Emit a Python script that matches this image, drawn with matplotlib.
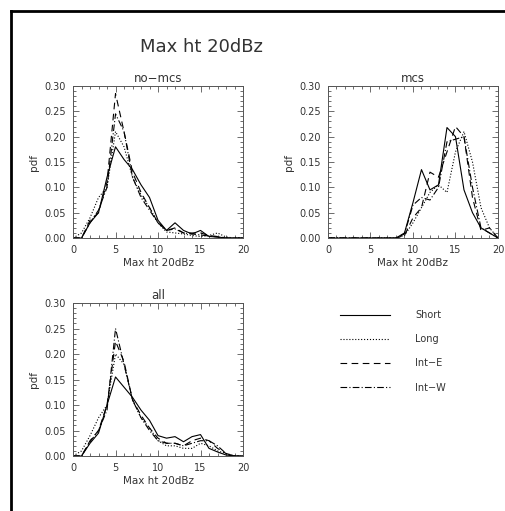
import matplotlib
matplotlib.use('Agg')
import matplotlib.pyplot as plt
from matplotlib.lines import Line2D
from matplotlib.ticker import MultipleLocator

# bins of max height of 20 dBz echo (km)
heights = list(range(21))

# no-mcs
nomcs_short = [0, 0.0, 0.03, 0.05, 0.12, 0.18, 0.155, 0.135, 0.105, 0.08, 0.035,
               0.015, 0.03, 0.015, 0.008, 0.015, 0.003, 0.002, 0, 0, 0]
nomcs_long = [0, 0.01, 0.04, 0.08, 0.10, 0.21, 0.18, 0.12, 0.085, 0.06, 0.03,
              0.012, 0.01, 0.008, 0.005, 0.003, 0.005, 0.01, 0.002, 0, 0]
nomcs_inte = [0, 0.0, 0.035, 0.05, 0.11, 0.285, 0.21, 0.13, 0.09, 0.06, 0.03,
              0.015, 0.02, 0.01, 0.01, 0.01, 0.005, 0.003, 0, 0, 0]
nomcs_intw = [0, 0.0, 0.03, 0.055, 0.10, 0.245, 0.21, 0.12, 0.08, 0.055, 0.03,
              0.015, 0.018, 0.01, 0.008, 0.006, 0.004, 0.002, 0, 0, 0]

# mcs
mcs_short = [0, 0, 0, 0, 0, 0, 0, 0, 0, 0.01, 0.07,
             0.135, 0.095, 0.105, 0.218, 0.20, 0.095, 0.05, 0.02, 0.01, 0]
mcs_long = [0, 0, 0, 0, 0, 0, 0, 0, 0, 0.005, 0.03,
            0.06, 0.09, 0.105, 0.09, 0.17, 0.21, 0.15, 0.06, 0.02, 0]
mcs_inte = [0, 0, 0, 0, 0, 0, 0, 0, 0, 0.005, 0.04,
            0.06, 0.13, 0.12, 0.17, 0.22, 0.20, 0.08, 0.015, 0.02, 0]
mcs_intw = [0, 0, 0, 0, 0, 0, 0, 0, 0, 0.008, 0.065,
            0.08, 0.075, 0.10, 0.19, 0.195, 0.20, 0.10, 0.02, 0.01, 0]

# all
all_short = [0, 0.0, 0.025, 0.045, 0.10, 0.155, 0.135, 0.115, 0.09, 0.07, 0.04,
             0.035, 0.038, 0.028, 0.038, 0.042, 0.015, 0.008, 0.002, 0, 0]
all_long = [0, 0.01, 0.04, 0.075, 0.10, 0.20, 0.18, 0.11, 0.075, 0.055, 0.03,
            0.02, 0.02, 0.015, 0.015, 0.025, 0.02, 0.01, 0.005, 0, 0]
all_inte = [0, 0.0, 0.03, 0.05, 0.10, 0.225, 0.185, 0.11, 0.08, 0.055, 0.035,
            0.025, 0.025, 0.02, 0.03, 0.035, 0.03, 0.015, 0.005, 0, 0]
all_intw = [0, 0.0, 0.028, 0.05, 0.09, 0.25, 0.18, 0.11, 0.075, 0.05, 0.03,
            0.025, 0.025, 0.02, 0.025, 0.03, 0.03, 0.02, 0.005, 0, 0]

names = ['Short', 'Long', 'Int\u2212E', 'Int\u2212W']
styles = ['-', ':', (0, (6, 4)), (0, (6, 2, 1, 2))]

panels = [
    ('no\u2212mcs', [nomcs_short, nomcs_long, nomcs_inte, nomcs_intw], [0.1446, 0.5342, 0.3366, 0.2975]),
    ('mcs', [mcs_short, mcs_long, mcs_inte, mcs_intw], [0.6495, 0.5342, 0.3366, 0.2975]),
    ('all', [all_short, all_long, all_inte, all_intw], [0.1446, 0.1076, 0.3366, 0.2994]),
]

plt.rcParams['font.family'] = 'DejaVu Sans'
fig = plt.figure(figsize=(5.05, 5.11), dpi=100)

txt = '#333333'
for title, series, pos in panels:
    ax = fig.add_axes(pos)
    for s, ls in zip(series, styles):
        ax.plot(heights, s, color='black', lw=0.8, linestyle=ls)
    ax.set_xlim(0, 20)
    ax.set_ylim(0, 0.30)
    ax.xaxis.set_major_locator(MultipleLocator(5))
    ax.xaxis.set_minor_locator(MultipleLocator(1))
    ax.yaxis.set_major_locator(MultipleLocator(0.05))
    ax.yaxis.set_minor_locator(MultipleLocator(0.01))
    ax.yaxis.set_major_formatter(matplotlib.ticker.FormatStrFormatter('%.2f'))
    ax.tick_params(which='both', direction='in', top=True, right=True,
                   labelsize=7, labelcolor=txt, color='#555555', width=0.6)
    ax.tick_params(which='major', length=4, pad=5)
    ax.tick_params(which='minor', length=2)
    for sp in ax.spines.values():
        sp.set_linewidth(0.7)
        sp.set_color('#555555')
    ax.set_title(title, fontsize=8.5, color=txt, pad=3)
    ax.set_xlabel('Max ht 20dBz', fontsize=7.5, color=txt, labelpad=2)
    ax.set_ylabel('pdf', fontsize=7.5, color=txt, labelpad=4)

handles = [Line2D([], [], color='black', lw=0.8, linestyle=ls) for ls in styles]
fig.legend(handles, names, loc='upper left', bbox_to_anchor=(0.655, 0.41),
           frameon=False, fontsize=7, handlelength=5.2, handletextpad=2.6,
           labelspacing=1.45, labelcolor=txt)

fig.text(0.398, 0.908, 'Max ht 20dBz', fontsize=13, color=txt, ha='center', va='center')

# page frame (top and left edges)
fig.add_artist(Line2D([11 / 505, 1], [1 - 11 / 511, 1 - 11 / 511], color='black', lw=2))
fig.add_artist(Line2D([11 / 505, 11 / 505], [0, 1 - 11 / 511], color='black', lw=2))

fig.savefig('out.png', dpi=100)
